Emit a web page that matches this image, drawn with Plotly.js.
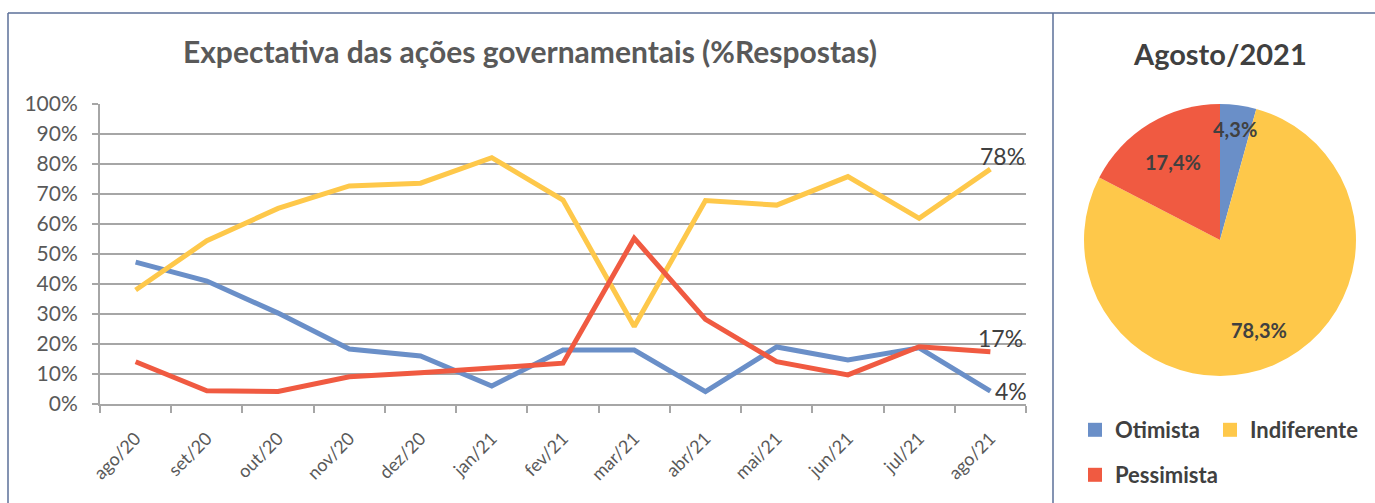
<!DOCTYPE html>
<html><head><meta charset="utf-8">
<script src="https://cdn.plot.ly/plotly-3.0.1.min.js"></script>
<style>html,body{margin:0;padding:0;background:#fff}#chart{width:1375px;height:503px}</style>
</head><body><div id="chart"></div>
<script>
// ---- data ----
const months = ['ago/20','set/20','out/20','nov/20','dez/20','jan/21','fev/21','mar/21','abr/21','mai/21','jun/21','jul/21','ago/21'];
const otimista    = [47.3, 41.0, 30.3, 18.3, 16.0, 6.0, 18.0, 18.0, 4.1, 19.0, 14.7, 18.7, 4.3];
const indiferente = [38.0, 54.4, 65.2, 72.7, 73.6, 82.1, 68.0, 25.8, 67.8, 66.3, 75.8, 61.9, 78.3];
const pessimista  = [14.1, 4.4, 4.2, 9.1, 10.4, 11.9, 13.6, 55.2, 28.2, 14.1, 9.7, 19.1, 17.4];
const pieLabels = ['Otimista', 'Indiferente', 'Pessimista'];
const pieValues = [4.3, 78.3, 17.4];
const yTicks = [0,10,20,30,40,50,60,70,80,90,100];

// ---- styles ----
const W = 1375, H = 503;
const colors = {Otimista:'#6a8fc8', Indiferente:'#fec84a', Pessimista:'#f05a41'};
const FONT = 'Lato, "Open Sans", sans-serif';
const grey = '#595959', dark = '#404040', gridc = '#a6a6a6';
const px = x => x / W, py = y => 1 - y / H;

const series = [['Otimista', otimista], ['Indiferente', indiferente], ['Pessimista', pessimista]];
const traces = series.map(([name, vals]) => ({
  type: 'scatter', mode: 'lines', x: months, y: vals, name,
  line: {color: colors[name], width: 5}, showlegend: false, hoverinfo: 'x+y'
}));

const pieDomain = {x: [px(1084), px(1356)], y: [py(376), py(104)]};
traces.push({
  type: 'pie', labels: pieLabels, values: pieValues, sort: false, direction: 'clockwise', rotation: 0,
  marker: {colors: pieLabels.map(l => colors[l])},
  domain: pieDomain, textinfo: 'none', showlegend: false, hole: 0
});

// legend entries for the pie (one legend per entry to place them like the original)
const legendIds = ['legend', 'legend2', 'legend3'];
pieLabels.forEach((l, i) => traces.push({
  type: 'scatter', mode: 'markers', x: [null], y: [null], name: l,
  marker: {symbol: 'square', size: 14, color: colors[l]},
  legend: legendIds[i], showlegend: true
}));

// end labels (last values)
const last = months.length - 1;
const endShift = {Otimista: [3, 0], Indiferente: [-12, 13], Pessimista: [-14, 14]};
const annotations = series.map(([name, vals]) => ({
  x: months[last], y: vals[last], xref: 'x', yref: 'y', text: Math.round(vals[last]) + '%',
  showarrow: false, xanchor: 'left', yanchor: 'middle',
  xshift: endShift[name][0], yshift: endShift[name][1],
  font: {family: FONT, size: 23, color: dark}
}));
annotations.push({
  text: 'Agosto/2021', xref: 'paper', yref: 'paper', x: px(1220), y: py(53),
  xanchor: 'center', yanchor: 'middle', showarrow: false,
  font: {family: FONT, size: 29, color: dark, weight: 'bold'}
});

// pie percentage labels, placed at each slice's mid-angle (clockwise from 12 o'clock)
const labelRadius = [0.82, 0.72, 0.67];
const total = pieValues.reduce((a, b) => a + b, 0);
const pcx = (pieDomain.x[0] + pieDomain.x[1]) / 2 * W;
const pcy = (pieDomain.y[0] + pieDomain.y[1]) / 2 * H;
const pR = Math.min((pieDomain.x[1] - pieDomain.x[0]) * W, (pieDomain.y[1] - pieDomain.y[0]) * H) / 2;
let cum = 0;
pieValues.forEach((v, i) => {
  const th = 2 * Math.PI * (cum + v / 2) / total;
  cum += v;
  const r = labelRadius[i] * pR;
  annotations.push({
    text: (v / total * 100).toFixed(1).replace('.', ',') + '%', xref: 'paper', yref: 'paper',
    x: (pcx + r * Math.sin(th)) / W, y: (pcy + r * Math.cos(th)) / H,
    xanchor: 'center', yanchor: 'middle', showarrow: false,
    font: {family: FONT, size: 20, color: dark, weight: 'bold'}
  });
});

const legendFont = {family: FONT, size: 22, color: dark, weight: 'bold'};
const legPos = [[1075, 430], [1210, 430], [1075, 475]];
const layout = {
  width: W, height: H, margin: {l: 0, r: 0, t: 0, b: 0},
  paper_bgcolor: '#fff', plot_bgcolor: '#fff', separators: ',.',
  font: {family: FONT, color: grey},
  title: {text: 'Expectativa das ações governamentais (%Respostas)', x: px(530), xanchor: 'center',
          y: py(52), yanchor: 'middle', font: {family: FONT, size: 30, color: grey, weight: 'bold'}},
  xaxis: {domain: [px(100), px(1026)], type: 'category', range: [-0.5, months.length - 0.5],
          showgrid: false, showline: true,
          linecolor: gridc, linewidth: 2, ticks: 'outside', tickson: 'boundaries', ticklen: 7,
          tickcolor: gridc, tickwidth: 2, tickangle: -45, tickfont: {family: FONT, size: 18, color: grey},
          ticklabelstandoff: 15, zeroline: false, fixedrange: true},
  yaxis: {domain: [py(404), py(104)], range: [0, 100], tickvals: yTicks, ticktext: yTicks.map(v => v + '%'),
          showgrid: true, gridcolor: gridc, gridwidth: 2, showline: true, linecolor: gridc, linewidth: 2,
          ticks: 'outside', ticklen: 6, tickcolor: gridc, tickwidth: 2, zeroline: false,
          tickfont: {family: FONT, size: 21, color: grey}, ticklabelstandoff: 10, fixedrange: true},
  annotations,
  shapes: [
    {type: 'line', xref: 'paper', yref: 'paper', x0: px(8), x1: 1, y0: py(13), y1: py(13), line: {color: '#5b6f99', width: 1.5}},
    {type: 'line', xref: 'paper', yref: 'paper', x0: px(8), x1: px(8), y0: py(13), y1: 0, line: {color: '#5b6f99', width: 1.5}},
    {type: 'line', xref: 'paper', yref: 'paper', x0: px(1053), x1: px(1053), y0: py(13), y1: 0, line: {color: '#5b6f99', width: 1.5}}
  ]
};
legendIds.forEach((id, i) => {
  layout[id] = {orientation: 'h', x: px(legPos[i][0]), y: py(legPos[i][1]), xanchor: 'left', yanchor: 'middle',
                font: legendFont, itemwidth: 30, bgcolor: 'rgba(0,0,0,0)'};
});
Plotly.newPlot('chart', traces, layout, {displayModeBar: false, staticPlot: true});
</script></body></html>
